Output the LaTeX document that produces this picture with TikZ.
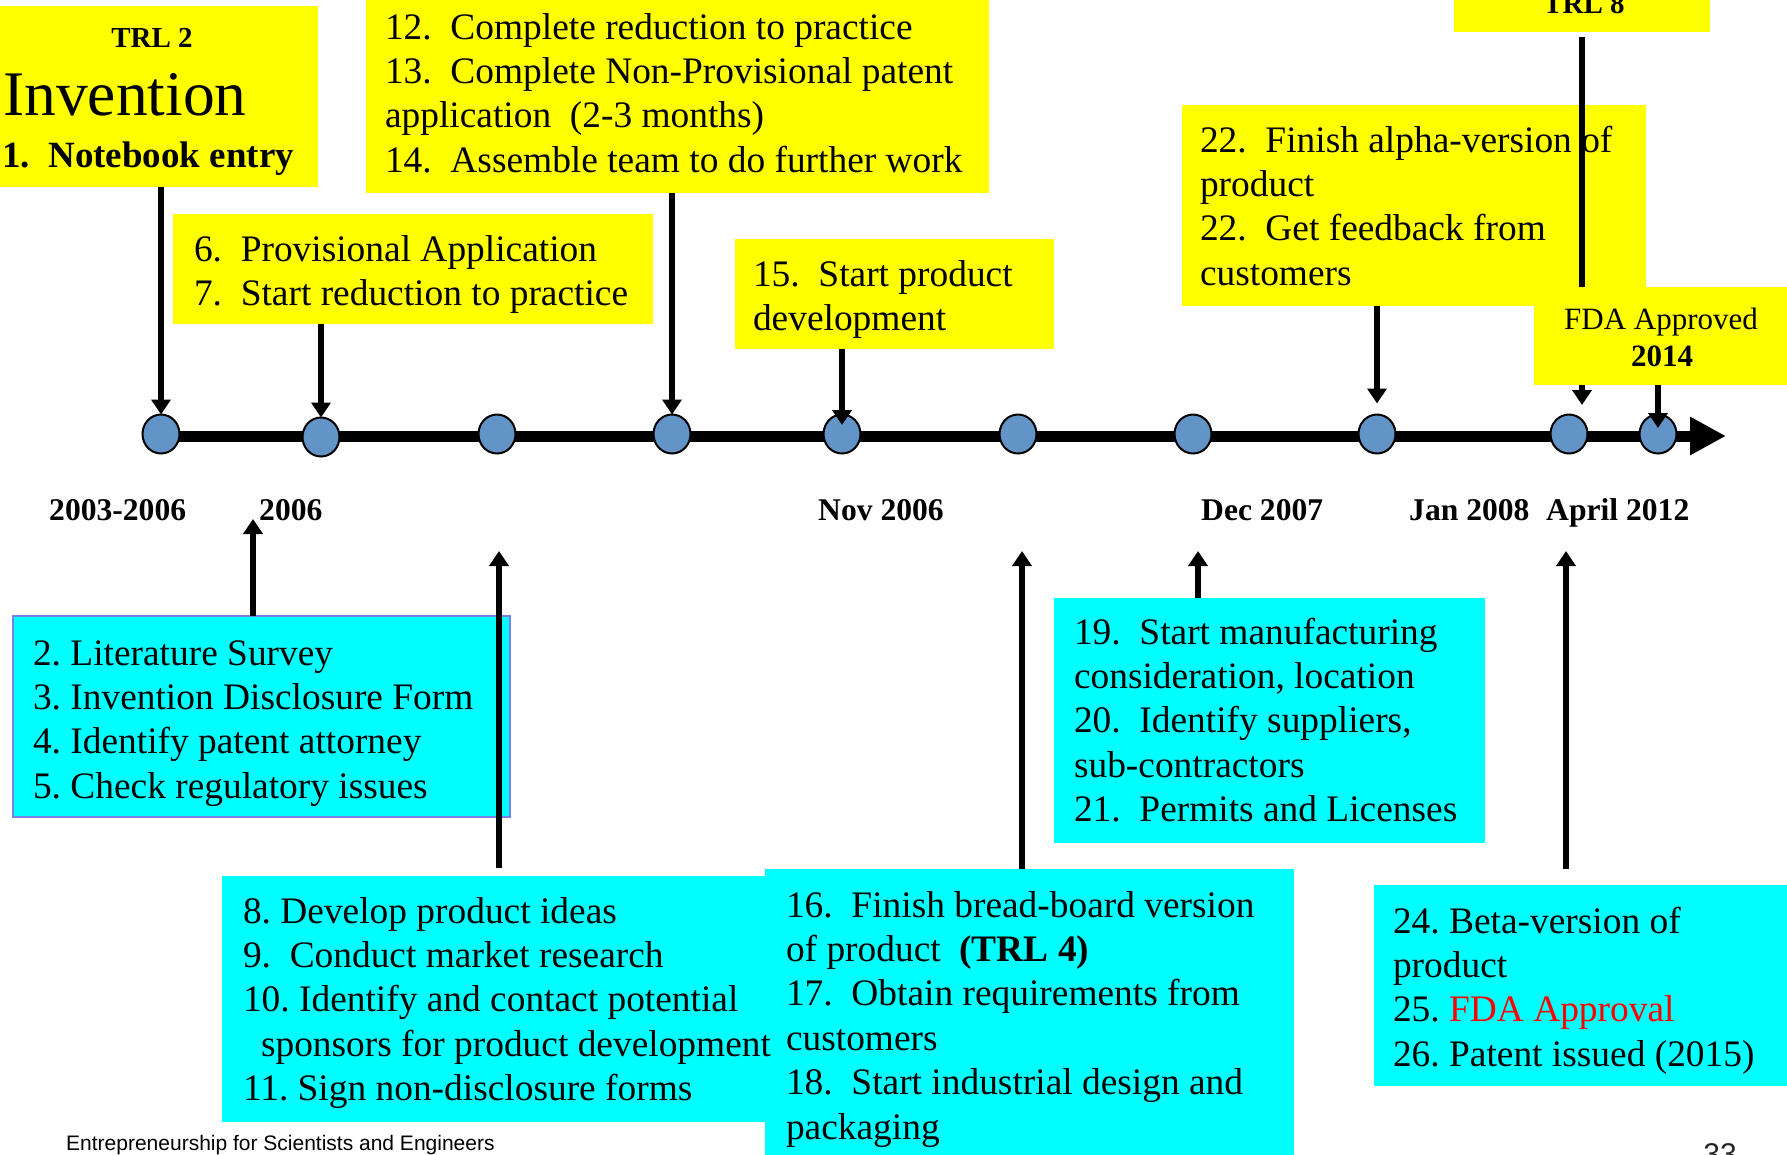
\documentclass[tikz,border=0pt]{standalone}
\usepackage{fontspec}
\setmainfont{Liberation Serif}
\newfontfamily\footfont{Liberation Sans}
\usetikzlibrary{arrows.meta,shapes.geometric}
\definecolor{yel}{RGB}{255,255,0}
\definecolor{cya}{RGB}{0,255,255}
\definecolor{dotblue}{RGB}{98,148,200}
\definecolor{edgeA}{RGB}{120,130,230}
% two-space gap after item numbers
\newcommand\dsp{\hspace{0.5em}}
% fixed first-line height so the first baseline sits 30pt below the node top
\newcommand\fst{\rule{0pt}{30pt}}
\begin{document}
\frenchspacing
\begin{tikzpicture}[x=1pt,y=-1pt,
  ybox/.style={fill=yel, draw=none, anchor=north west, inner sep=0pt, outer sep=0pt},
  cbox/.style={fill=cya, draw=none, anchor=north west, inner sep=0pt, outer sep=0pt},
  body/.style={anchor=north west, inner sep=0pt, outer sep=0pt, align=left,
    font=\fontsize{37.4}{44.4}\selectfont},
  dot/.style={ellipse, draw=black, line width=2pt, fill=dotblue,
    minimum width=37pt, minimum height=39pt, inner sep=0pt, outer sep=0pt},
  arr/.style={line width=5.5pt, -{Triangle[width=19pt,length=15pt]}},
  datelbl/.style={anchor=base west, inner sep=0pt, font=\bfseries\fontsize{31.6}{37}\selectfont},
]
\useasboundingbox (0,0) rectangle (1787,1154);
\clip (0,0) rectangle (1787,1154);

% ---------- timeline ----------
\coordinate (tlstart) at (161,436);
\coordinate (tlend) at (1726,436);
\draw[line width=11pt, -{Triangle[width=36pt,length=36pt]}] (tlstart) -- (tlend);
\node[dot] (c1) at (161,434) {};
\node[dot] (c2) at (321,437) {};
\node[dot] (c3) at (497,434) {};
\node[dot] (c4) at (672,434) {};
\node[dot] (c5) at (842,434) {};
\node[dot] (c6) at (1018,434) {};
\node[dot] (c7) at (1193,434) {};
\node[dot] (c8) at (1377,434) {};
\node[dot] (c9) at (1569,434) {};
\node[dot] (c10) at (1658,434) {};

% ---------- yellow milestone boxes ----------
\node[ybox, minimum width=318pt, minimum height=181pt] (inv) at (0,6) {};
\node[ybox, minimum width=480pt, minimum height=110pt] (y67) at (173,214) {};
\node[ybox, minimum width=623pt, minimum height=213pt] (y1214) at (366,-20) {};
\node[ybox, minimum width=319pt, minimum height=110pt] (y15) at (735,239) {};
\node[ybox, minimum width=464pt, minimum height=201pt] (y22) at (1182,105) {};
\node[ybox, minimum width=256pt, minimum height=52pt] (trl8) at (1454,-20) {};

% TRL 8 connector runs behind the FDA box
\coordinate (t8tip) at (1582,405);
\draw[arr, shorten <=5pt] (trl8.south -| t8tip) -- (t8tip);
\node[ybox, minimum width=266pt, minimum height=98pt] (fda) at (1534,287) {};

% downward connectors to the timeline
\draw[arr] (inv.south -| c1) -- (c1.north);
\draw[arr] (y67.south -| c2) -- (c2.north);
\draw[arr] (y1214.south -| c4) -- (c4.north);
\draw[arr, shorten >=9pt] (y15.south -| c5) -- (c5.center);
\draw[arr, shorten >=11pt] (y22.south -| c8) -- (c8.north);
\draw[arr, shorten >=6pt] (fda.south -| c10) -- (c10.center);

% ---------- cyan activity boxes ----------
\node[cbox, draw=edgeA, line width=2pt, minimum width=497pt, minimum height=201pt] (bA) at (13,616) {};
\node[cbox, minimum width=544pt, minimum height=246pt] (bB) at (222,876) {};
\node[cbox, minimum width=529pt, minimum height=301pt] (bC) at (765,869) {};
\node[cbox, minimum width=431pt, minimum height=245pt] (bD) at (1054,598) {};
\node[cbox, minimum width=426pt, minimum height=201pt] (bE) at (1374,885) {};

% upward connectors
\coordinate (uA) at (253,519);
\coordinate (uB) at (499,551);
\coordinate (uC) at (1022,551);
\coordinate (uD) at (1198,551);
\coordinate (uE) at (1566,551);
\draw[arr] (bA.north -| uA) -- (uA);
\draw[arr, shorten <=8pt] (bB.north -| uB) -- (uB);
\draw[arr] (bC.north -| uC) -- (uC);
\draw[arr] (bD.north -| uD) -- (uD);
\draw[arr, shorten <=16pt] (bE.north -| uE) -- (uE);

% ---------- texts in yellow boxes ----------
\node[anchor=base, inner sep=0pt, font=\bfseries\fontsize{29}{35}\selectfont] (trl2) at (152,47) {TRL 2};
\node[anchor=base west, inner sep=0pt, font=\fontsize{63.5}{76}\selectfont] (invt) at (3,115) {Invention};
\node[anchor=base west, inner sep=0pt, font=\bfseries\fontsize{37}{44}\selectfont] (note) at (2,167) {1.\dsp Notebook entry};

\node[body] (t67) at (194,231) {\fst 6.\dsp Provisional Application\\
7.\dsp Start reduction to practice};
\node[body] (t1214) at (385,9) {\fst 12.\dsp Complete reduction to practice\\
13.\dsp Complete Non-Provisional patent\\
application\dsp (2-3 months)\\
14.\dsp Assemble team to do further work};
\node[body] (t15) at (753,256) {\fst 15.\dsp Start product\\
development};
\node[body] (t22) at (1200,122) {\fst 22.\dsp Finish alpha-version of\\
product\\
22.\dsp Get feedback from\\
customers};
\node[anchor=base, inner sep=0pt, font=\bfseries\fontsize{29}{35}\selectfont] (trl8t) at (1584,13) {TRL 8};
\node[anchor=base, inner sep=0pt, font=\fontsize{31}{37}\selectfont] (fdat) at (1661,329) {FDA Approved};
\node[anchor=base, inner sep=0pt, font=\bfseries\fontsize{31}{37}\selectfont] (fday) at (1662,366) {2014};

% ---------- dates ----------
\node[datelbl] (d1) at (49,520) {2003-2006};
\node[datelbl] (d2) at (259,520) {2006};
\node[datelbl] (d3) at (818,520) {Nov 2006};
\node[datelbl] (d4) at (1201,520) {Dec 2007};
\node[datelbl] (d5) at (1409,520) {Jan 2008};
\node[datelbl] (d6) at (1546,520) {April 2012};

% ---------- texts in cyan boxes ----------
\node[body] (tA) at (33,635) {\fst 2. Literature Survey\\
3. Invention Disclosure Form\\
4. Identify patent attorney\\
5. Check regulatory issues};
\node[body] (tB) at (243,893) {\fst 8. Develop product ideas\\
9.\dsp Conduct market research\\
10. Identify and contact potential\\
\hspace{18pt}sponsors for product development\\
11. Sign non-disclosure forms};
\node[body] (tC) at (786,887) {\fst 16.\dsp Finish bread-board version\\
of product\dsp \textbf{(TRL 4)}\\
17.\dsp Obtain requirements from\\
customers\\
18.\dsp Start industrial design and\\
packaging};
\node[body] (tD) at (1074,614) {\fst 19.\dsp Start manufacturing\\
consideration, location\\
20.\dsp Identify suppliers,\\
sub-contractors\\
21.\dsp Permits and Licenses};
\node[body] (tE) at (1393,903) {\fst 24. Beta-version of\\
product\\
25. \textcolor{red}{FDA Approval}\\
26. Patent issued (2015)};

% ---------- footer ----------
\node[anchor=base west, inner sep=0pt, font=\footfont\fontsize{21}{25}\selectfont] (foot) at (66,1150) {Entrepreneurship for Scientists and Engineers};
\node[anchor=base, inner sep=0pt, text=black!85, font=\footfont\fontsize{30}{36}\selectfont] (pgno) at (1720,1164) {33};
\end{tikzpicture}
\end{document}
